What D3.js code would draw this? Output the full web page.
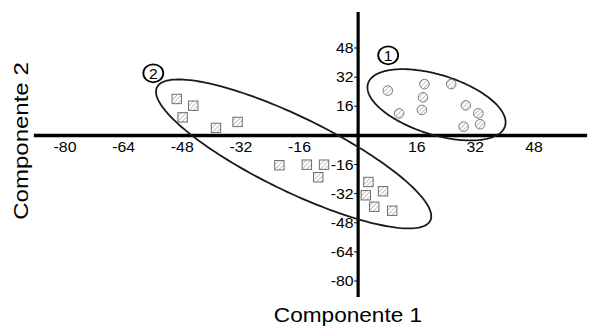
<!DOCTYPE html>
<html>
<head>
<meta charset="utf-8">
<script src="https://cdn.jsdelivr.net/npm/d3@7"></script>
<style>
  body { margin: 0; background: #fff; }
  text { font-family: "Liberation Sans", Arial, sans-serif; fill: #000; }
</style>
</head>
<body>
<svg id="graphic-svg" width="607" height="327"></svg>
<script>
// Data
var xTicks = [-80, -64, -48, -32, -16, 16, 32, 48];
var yTicks = [48, 32, 16, -16, -32, -48, -64, -80];
var xExtent = [-88.5, 62.5];
var yExtent = [67.8, -88.8];

// group 1 (circles)
var g1_x = [8.1, 11.2, 18.1, 17.7, 17.4, 25.4, 29.4, 32.8, 33.3, 28.8];
var g1_y = [24.6, 12.1, 28.2, 20.9, 14.0, 28.2, 16.5, 12.1, 6.1, 4.8];
// group 2 (squares)
var g2_x = [-49.5, -45.0, -47.9, -38.8, -32.9, -21.5, -14.0, -9.3, -10.9, 2.8, 6.8, 2.1, 4.4, 9.3];
var g2_y = [20.0, 16.3, 9.9, 4.1, 7.4, -16.4, -16.1, -16.1, -23.0, -25.6, -30.7, -32.9, -39.2, -41.4];

// cluster ellipses (centre + half axes, in data units)
var clusterNames = ["1", "2"];
var clusterCenters = [[21.4, 16.8], [-17.6, -10.2]];
var clusterMajor = [[18.7, -11.7], [37.3, -36.6]];
var clusterMinor = [[-2.4, -15.7], [-4.4, -18.3]];
var clusterLabelPos = [[8.2, 44.0], [-55.9, 34.1]];

var axisTitles = ["Componente 1", "Componente 2"];

var svg = d3.select("#graphic-svg");
var stretch = 1.13; // the original lettering is a bit wide

var xScale = d3.scaleLinear().domain([-80, 48]).range([65, 534]);
var yScale = d3.scaleLinear().domain([-80, 48]).range([281, 48]);

// hatch pattern
var defs = svg.append("defs");
defs.append("pattern")
    .attr("id", "hatch")
    .attr("patternUnits", "userSpaceOnUse")
    .attr("width", 3.2)
    .attr("height", 3.2)
    .attr("patternTransform", "rotate(45)")
  .append("line")
    .attr("x1", 0).attr("y1", 0)
    .attr("x2", 0).attr("y2", 3.2)
    .style("stroke", "#8a8a8a")
    .style("stroke-width", 1);

function widen(sel, k) {
  sel.each(function() {
    var len = this.getComputedTextLength();
    d3.select(this).attr("textLength", len * (k || stretch)).attr("lengthAdjust", "spacingAndGlyphs");
  });
}

// axes
svg.append("line")
   .attr("x1", xScale(xExtent[0])).attr("x2", xScale(xExtent[1]))
   .attr("y1", yScale(0)).attr("y2", yScale(0))
   .style("stroke", "#000").style("stroke-width", 3.5);
svg.append("line")
   .attr("x1", xScale(0)).attr("x2", xScale(0))
   .attr("y1", yScale(yExtent[0])).attr("y2", yScale(yExtent[1]))
   .style("stroke", "#000").style("stroke-width", 3.2);

// x tick labels
svg.selectAll(".xLabel")
   .data(xTicks)
   .enter()
   .append("text")
   .attr("class", "xLabel")
   .attr("x", function(d) { return xScale(d); })
   .attr("y", yScale(0) + 17)
   .style("font-size", "14px")
   .style("text-anchor", "middle")
   .text(function(d) { return d; })
   .call(widen);

// y ticks + labels
svg.selectAll(".yTick")
   .data(yTicks)
   .enter()
   .append("line")
   .attr("class", "yTick")
   .attr("x1", xScale(0) - 4).attr("x2", xScale(0))
   .attr("y1", function(d) { return yScale(d); })
   .attr("y2", function(d) { return yScale(d); })
   .style("stroke", "#000").style("stroke-width", 1);
svg.selectAll(".yLabel")
   .data(yTicks)
   .enter()
   .append("text")
   .attr("class", "yLabel")
   .attr("x", xScale(0) - 4.5)
   .attr("y", function(d) { return yScale(d) + 5; })
   .style("font-size", "14px")
   .style("text-anchor", "end")
   .text(function(d) { return d; })
   .call(widen);

// cluster ellipses
var ellipseLine = d3.line()
    .x(function(p) { return xScale(p[0]); })
    .y(function(p) { return yScale(p[1]); })
    .curve(d3.curveLinearClosed);
clusterNames.forEach(function(name, i) {
  var c = clusterCenters[i], a = clusterMajor[i], b = clusterMinor[i];
  var pts = d3.range(0, 2 * Math.PI, Math.PI / 90).map(function(t) {
    return [c[0] + Math.cos(t) * a[0] + Math.sin(t) * b[0],
            c[1] + Math.cos(t) * a[1] + Math.sin(t) * b[1]];
  });
  svg.append("path")
     .attr("class", "clusterEllipse")
     .attr("d", ellipseLine(pts))
     .style("fill", "none")
     .style("stroke", "#1a1a1a")
     .style("stroke-width", 1.8);

  var lp = clusterLabelPos[i];
  svg.append("ellipse")
     .attr("cx", xScale(lp[0])).attr("cy", yScale(lp[1]))
     .attr("rx", 10).attr("ry", 9)
     .style("fill", "none").style("stroke", "#000").style("stroke-width", 1.8);
  svg.append("text")
     .attr("x", xScale(lp[0])).attr("y", yScale(lp[1]) + 5.5)
     .style("font-size", "15.5px")
     .style("text-anchor", "middle")
     .text(name);
});

// group 1 points
svg.selectAll(".g1Dot")
   .data(g1_x)
   .enter()
   .append("circle")
   .attr("class", "g1Dot")
   .attr("cx", function(d) { return xScale(d); })
   .attr("cy", function(d, i) { return yScale(g1_y[i]); })
   .attr("r", 4.8)
   .style("fill", "url(#hatch)")
   .style("stroke", "#7a7a7a")
   .style("stroke-width", 1);

// group 2 points
svg.selectAll(".g2Square")
   .data(g2_x)
   .enter()
   .append("rect")
   .attr("class", "g2Square")
   .attr("x", function(d) { return xScale(d) - 4.7; })
   .attr("y", function(d, i) { return yScale(g2_y[i]) - 4.7; })
   .attr("width", 9.4)
   .attr("height", 9.4)
   .style("fill", "url(#hatch)")
   .style("stroke", "#6e6e6e")
   .style("stroke-width", 1);

// axis titles
svg.append("text")
   .attr("x", 348)
   .attr("y", 322)
   .style("font-size", "20px")
   .style("text-anchor", "middle")
   .text(axisTitles[0])
   .call(widen);
svg.append("text")
   .attr("transform", "translate(28,141) rotate(-90)")
   .style("font-size", "20px")
   .style("text-anchor", "middle")
   .text(axisTitles[1])
   .call(widen, 1.2);
</script>
</body>
</html>
